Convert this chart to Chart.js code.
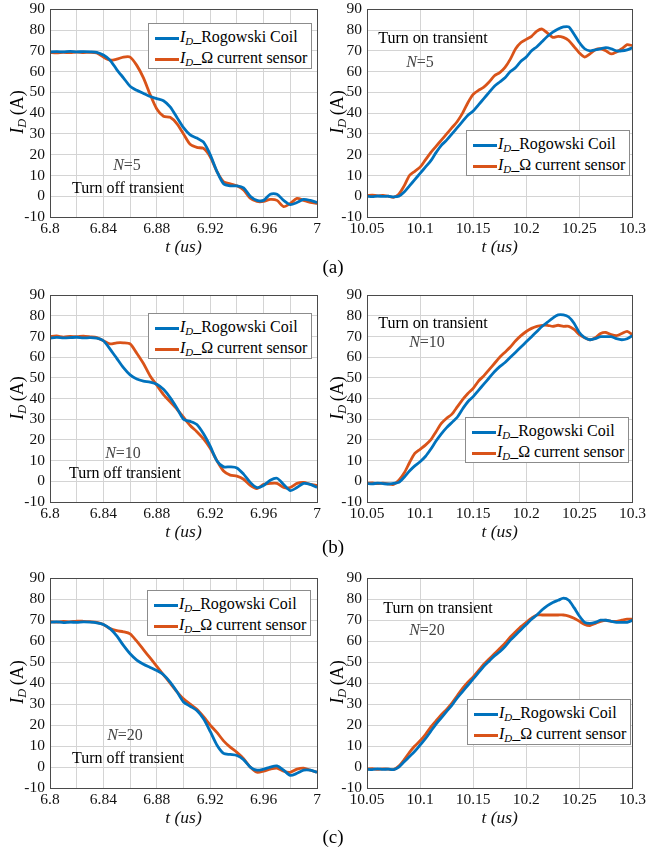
<!DOCTYPE html>
<html>
<head>
<meta charset="utf-8">
<script src="https://cdn.jsdelivr.net/npm/chart.js@4.4.1/dist/chart.umd.min.js"></script>
<style>
  body { margin: 0; background: #fff; font-family: "Liberation Serif", "Times New Roman", serif; }
  #fig { position: relative; width: 649px; height: 851px; overflow: hidden; }
  #fig canvas { position: absolute; }
  .ytitle { position: absolute; font-size: 18px; white-space: nowrap; transform: translate(-50%, -50%) rotate(-90deg); }
  .legend { position: absolute; background: #fff; border: 1px solid #8c8c8c; font-size: 16px; padding: 2px 0 0 6px; box-sizing: border-box; }
  .legend .row { height: 21px; line-height: 21px; white-space: nowrap; }
  .legend .swatch { display: inline-block; width: 24px; height: 3px; vertical-align: middle; margin-right: 1px; }
  .note { position: absolute; font-size: 16px; white-space: nowrap; transform: translate(-50%, -50%); }
  .note.n { color: #444; }
  .tag { position: absolute; font-size: 19px; transform: translate(-50%, -50%); }
  sub { font-size: 0.68em; vertical-align: -0.3em; line-height: 0; font-style: italic; }
</style>
</head>
<body>
<div id="fig"></div>
<script>
// time axes (us)
const tOff = [6.8, 6.805, 6.81, 6.815, 6.82, 6.825, 6.83, 6.835, 6.84, 6.845, 6.85, 6.855, 6.86, 6.865,
  6.87, 6.875, 6.88, 6.885, 6.89, 6.895, 6.9, 6.905, 6.91, 6.915, 6.92, 6.925, 6.93, 6.935, 6.94,
  6.945, 6.95, 6.955, 6.96, 6.965, 6.97, 6.975, 6.98, 6.985, 6.99, 6.995, 7];
const tOn = [10.05, 10.055, 10.06, 10.065, 10.07, 10.075, 10.08, 10.085, 10.09, 10.095, 10.1, 10.105,
  10.11, 10.115, 10.12, 10.125, 10.13, 10.135, 10.14, 10.145, 10.15, 10.155, 10.16, 10.165, 10.17,
  10.175, 10.18, 10.185, 10.19, 10.195, 10.2, 10.205, 10.21, 10.215, 10.22, 10.225, 10.23, 10.235,
  10.24, 10.245, 10.25, 10.255, 10.26, 10.265, 10.27, 10.275, 10.28, 10.285, 10.29, 10.295, 10.3];

// N = 5
const rogOff5 = [69.4, 69.6, 69.5, 69.7, 69.5, 69.6, 69.5, 69.3, 68, 65.5, 61, 57, 53, 51, 49.5, 48, 47, 46,
  43, 38, 33, 29.5, 28, 26, 20, 12, 6, 5, 5, 4, 0, -2, -2, 1, 1, -2, -4, -3, -1.5, -2, -3];
const omegaOff5 = [69.2, 69.0, 69.3, 69.1, 69.4, 69.2, 69.3, 69.0, 67, 65.5, 66, 67, 67, 63, 57, 49, 42, 38.5,
  38, 35, 30, 25, 23.5, 23, 19, 12, 7, 6, 5, 3, -1, -2.5, -2.5, -1.5, -2, -5, -3.5, -1, -2, -3, -3.5];
const rogOn5 = [0, -0.2, 0.1, -0.1, 0, -0.3, 0, 2, 5, 8, 11, 14, 17, 21, 24.5, 27, 30, 33, 36, 39, 41, 44, 47,
  50, 53, 55, 57, 60, 62, 65, 67, 70, 72, 74.5, 77, 79, 80.5, 81.5, 81.5, 78, 74, 71, 70, 70.5, 71, 71.5,
  71, 70, 70, 70.5, 71.5];
const omegaOn5 = [0.3, 0.5, 0.2, 0.4, 0, -0.5, 1, 5, 10, 12, 14, 17.5, 21, 24, 27, 30, 33, 36, 40, 45, 49, 51,
  52.5, 55, 58, 59.5, 62, 66, 71, 74, 75.5, 77, 79.5, 80.5, 78.5, 76.5, 77, 76.5, 75, 72, 69, 67, 68.5,
  70.5, 71, 70, 68.5, 69.5, 71, 73, 72.5];

// N = 10
const rogOff10 = [69.3, 69.6, 69.4, 69.5, 69.7, 69.4, 69.5, 69.3, 68, 64, 59.5, 55, 51.5, 49.5, 48.5, 48, 47,
  44.5, 40.5, 35.5, 30, 29, 27.5, 23, 17, 10, 7, 7, 6.5, 3.5, -0.5, -3, -2, 0.5, 1.5, -1.5, -4.5, -3, -1,
  -1.5, -3];
const omegaOff10 = [70, 70.3, 69.8, 70.1, 70, 70.2, 69.9, 69.5, 68, 66.5, 67, 67, 66.5, 62, 57, 51, 46.5, 42,
  38.5, 35, 31, 27, 24, 20.5, 16, 10, 5, 3, 2.5, 1, -2, -3.5, -1.5, -1, -1, -3, -3, -1, -0.5, -1.5, -2];
const rogOn10 = [-1, -1.2, -0.9, -1.1, -1.3, -1, -0.5, 2, 5, 7.5, 9.5, 12, 15.5, 19.5, 23, 26, 28.5, 31, 35,
  38.5, 41, 44, 47, 50, 53, 55.5, 57.5, 60, 62.5, 65, 67.5, 70, 72.5, 75, 77, 79, 80.5, 80.5, 79.5, 76.5,
  72, 69.5, 68.5, 69, 70, 70, 70, 69, 68.5, 69, 70.5];
const omegaOn10 = [-1, -0.8, -1.1, -0.9, -1.2, -1.5, 0.5, 4, 9, 13.5, 15.5, 17.5, 20, 24, 28, 30.5, 32.5, 36,
  39.5, 42.5, 45, 48.5, 51, 54, 57, 60, 62.5, 65, 68, 70.5, 72.5, 74, 75, 75.5, 75.5, 75, 75.5, 75, 75,
  73.5, 71, 69.5, 68.5, 69.5, 71.5, 72, 71, 70.5, 71.5, 72.5, 71];

// N = 20
const rogOff20 = [69, 69.2, 68.9, 69.1, 69, 69.2, 69.1, 68.8, 68, 66, 62.5, 58, 54, 51, 49, 47.5, 46, 44, 40.5,
  36, 31, 29, 27, 23, 17, 10.5, 6.5, 6, 5.5, 3.5, 0, -1.5, -1, 0, 0.5, -1.5, -4, -3, -1.5, -1.5, -2.5];
const omegaOff20 = [69.3, 69.1, 69.4, 69.2, 69.6, 69.5, 69.3, 69, 68, 66, 65, 64.5, 63.5, 60, 56, 52, 48, 44,
  40, 36, 32.5, 30, 27.5, 24, 20, 16.5, 12.5, 9.5, 7, 4, 0, -2.5, -2, -1, -0.5, -2, -2.5, -1, -0.5, -1.5,
  -2.5];
const rogOn20 = [-1, -1.2, -0.9, -1.1, -1, -1.2, 0, 2.5, 5, 7.5, 10.5, 13.5, 17, 20.5, 23.5, 26.5, 29.5, 33,
  36, 39, 42, 45, 48, 50.5, 53, 55, 57.5, 60.5, 63, 65.5, 68, 70.5, 72.5, 75, 77, 78.5, 79.5, 80.5, 79.5,
  76, 72, 69, 68.5, 69, 70, 70, 69.5, 69, 69, 69, 70];
const omegaOn20 = [-1, -0.8, -1.1, -0.9, -1, -1.2, 0.5, 3.5, 7, 10, 12.5, 15.5, 19, 22, 25, 27.5, 30.5, 34,
  37.5, 40.5, 43, 46, 49, 51.5, 54, 56.5, 59, 62, 64.5, 67, 69, 71, 72.5, 72.5, 72.5, 72.5, 72.5, 72.5, 72,
  71, 69.5, 68, 67.5, 68.5, 69.5, 70, 69.5, 69.5, 70, 70.5, 70.5];

const yTicks = { min: -10, max: 90, step: 10 };
const BLUE = '#0072BD';
const ORANGE = '#D95319';
const FONT = '"Liberation Serif", "Times New Roman", serif';

const panels = [
  { side: 'left',  top: 7,   h: 210, t: tOff, blue: rogOff5,   red: omegaOff5,  n: '5',  legend: [148, 23],  notes: [[127, 165], [128, 188]] },
  { side: 'right', top: 7,   h: 210, t: tOn,  blue: rogOn5,    red: omegaOn5,   n: '5',  legend: [466, 130], notes: [[420, 62], [433, 38]] },
  { side: 'left',  top: 293, h: 209, t: tOff, blue: rogOff10,  red: omegaOff10, n: '10', legend: [148, 313], notes: [[123, 453], [125, 473]] },
  { side: 'right', top: 293, h: 209, t: tOn,  blue: rogOn10,   red: omegaOn10,  n: '10', legend: [465, 417], notes: [[427, 342], [433, 323]] },
  { side: 'left',  top: 576, h: 212, t: tOff, blue: rogOff20,  red: omegaOff20, n: '20', legend: [147, 590], notes: [[125, 735], [128, 758]] },
  { side: 'right', top: 576, h: 212, t: tOn,  blue: rogOn20,   red: omegaOn20,  n: '20', legend: [467, 699], notes: [[427, 630], [438, 608]] },
];

const fig = document.getElementById('fig');

const boxPlugin = {
  id: 'box',
  afterDatasetsDraw(chart) {
    const a = chart.chartArea;
    const ctx = chart.ctx;
    ctx.save();
    ctx.strokeStyle = '#4a4a4a';
    ctx.lineWidth = 1;
    ctx.strokeRect(Math.round(a.left) + 0.5, Math.round(a.top) + 0.5,
      Math.round(a.right - a.left), Math.round(a.bottom - a.top));
    ctx.restore();
  }
};

function addHtml(cls, html, x, y) {
  const d = document.createElement('div');
  d.className = cls;
  d.innerHTML = html;
  d.style.left = x + 'px';
  d.style.top = y + 'px';
  fig.appendChild(d);
  return d;
}

panels.forEach(p => {
  const isLeft = p.side === 'left';
  const W = isLeft ? 326 : 329;
  const yw = isLeft ? 50 : 47;
  const pr = isLeft ? 9 : 16;
  const pt = 12;
  const xh = 41;
  const canvas = document.createElement('canvas');
  canvas.width = W;
  canvas.height = pt + p.h + xh;
  canvas.style.left = (isLeft ? 0 : 320) + 'px';
  canvas.style.top = (p.top - pt) + 'px';
  fig.appendChild(canvas);

  const xMin = isLeft ? 6.8 : 10.05;
  const xMax = isLeft ? 7 : 10.3;
  const xStep = isLeft ? 0.02 : 0.05;

  new Chart(canvas.getContext('2d'), {
    type: 'line',
    data: {
      datasets: [
        { label: 'I_D_Rogowski Coil', data: p.t.map((t, i) => ({ x: t, y: p.blue[i] })),
          borderColor: BLUE, borderWidth: 2.8, pointRadius: 0, fill: false },
        { label: 'I_D_Ω current sensor', data: p.t.map((t, i) => ({ x: t, y: p.red[i] })),
          borderColor: ORANGE, borderWidth: 2.8, pointRadius: 0, fill: false },
      ],
    },
    options: {
      responsive: false,
      animation: false,
      layout: { padding: { top: pt, right: pr, left: 0, bottom: 0 } },
      elements: { line: { tension: 0.25 } },
      plugins: { legend: { display: false }, tooltip: { enabled: false } },
      scales: {
        x: {
          type: 'linear',
          min: xMin,
          max: xMax,
          afterFit: s => { s.height = xh; },
          grid: { color: '#d4d4d4', drawTicks: false },
          border: { display: false },
          ticks: {
            stepSize: xStep,
            autoSkip: false,
            maxRotation: 0,
            padding: 3,
            color: '#111',
            font: { family: FONT, size: 15.5 },
            callback: v => {
              if (isLeft && Math.round((v - 6.8) / 0.02) % 2 !== 0) return '';
              return String(+v.toFixed(2));
            },
          },
          title: { display: true, text: 't (us)', padding: 0, color: '#111',
            font: { family: FONT, size: 17.5, style: 'italic' } },
        },
        y: {
          min: yTicks.min,
          max: yTicks.max,
          afterFit: s => { s.width = yw; },
          grid: { color: '#d4d4d4', drawTicks: false },
          border: { display: false },
          ticks: { stepSize: yTicks.step, autoSkip: false, padding: 5, color: '#111',
            font: { family: FONT, size: 15.5 } },
        },
      },
    },
    plugins: [boxPlugin],
  });

  // y axis title, legend, notes
  addHtml('ytitle', '<i>I</i><sub>D</sub>&thinsp;(A)', isLeft ? 17 : 337, p.top + p.h / 2);

  const lg = addHtml('legend',
    '<div class="row"><span class="swatch" style="background:' + BLUE + '"></span><i>I</i><sub>D</sub>_Rogowski Coil</div>' +
    '<div class="row"><span class="swatch" style="background:' + ORANGE + '"></span><i>I</i><sub>D</sub>_Ω current sensor</div>',
    p.legend[0], p.legend[1]);
  lg.style.width = '164px';
  lg.style.height = '46px';

  addHtml('note n', '<i>N</i>=' + p.n, p.notes[0][0], p.notes[0][1]);
  addHtml('note', isLeft ? 'Turn off transient' : 'Turn on transient', p.notes[1][0], p.notes[1][1]);
});

addHtml('tag', '(a)', 333, 267);
addHtml('tag', '(b)', 333, 547);
addHtml('tag', '(c)', 333, 837);
</script>
</body>
</html>
